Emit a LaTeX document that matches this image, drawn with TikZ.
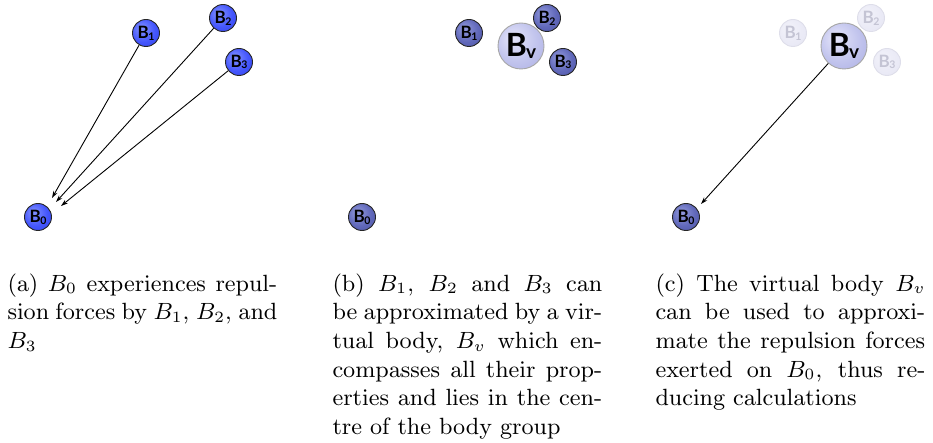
\RequirePackage{fix-cm}
\documentclass[tikz,border=0pt]{standalone}
\usepackage[no-math]{fontspec}
\newfontfamily\ballfont{Lato}
\usetikzlibrary{arrows.meta}

\pgfdeclareradialshading{ballblue}{\pgfpoint{-10bp}{10bp}}{rgb(0bp)=(0.52,0.58,1); rgb(22bp)=(0.27,0.34,0.99); rgb(40bp)=(0.18,0.25,0.92); rgb(50bp)=(0.13,0.19,0.84)}
\pgfdeclareradialshading{ballslate}{\pgfpoint{-10bp}{10bp}}{rgb(0bp)=(0.58,0.61,0.87); rgb(22bp)=(0.38,0.41,0.73); rgb(40bp)=(0.29,0.32,0.64); rgb(50bp)=(0.24,0.27,0.58)}
\pgfdeclareradialshading{balllav}{\pgfpoint{-10bp}{10bp}}{rgb(0bp)=(0.90,0.90,0.98); rgb(22bp)=(0.76,0.77,0.93); rgb(40bp)=(0.67,0.68,0.89); rgb(50bp)=(0.61,0.62,0.86)}
\pgfdeclareradialshading{ballfade}{\pgfpoint{-10bp}{10bp}}{rgb(0bp)=(0.95,0.95,0.98); rgb(30bp)=(0.91,0.91,0.96); rgb(50bp)=(0.87,0.87,0.94)}

\definecolor{fadetext}{RGB}{196,196,212}
\definecolor{fadeedge}{RGB}{222,222,234}

\newcommand\blab[1]{{\ballfont\bfseries\fontsize{17}{17}\selectfont B\kern-0.4pt\raisebox{-1.8pt}{\fontsize{10.5}{10.5}\selectfont #1}}}
\newcommand\bvlab{{\ballfont\bfseries\fontsize{32}{32}\selectfont B\kern-0.6pt\raisebox{-2.5pt}{\fontsize{19}{19}\selectfont v}}}
\newlength\capw
\setlength\capw{103.4pt}
\newcommand\jline[1]{\hbox to \capw{#1}}
\newcommand\capfont{\fontencoding{OT1}\fontfamily{cmr}\fontseries{m}\fontshape{n}\fontsize{9}{11}\selectfont}

\tikzset{
  smallball/.style={circle, minimum size=27pt, inner sep=0pt, draw=black!85, line width=0.9pt},
  blueball/.style={smallball, shading=ballblue},
  slateball/.style={smallball, shading=ballslate},
  fadeball/.style={smallball, shading=ballfade, draw=fadeedge, text=fadetext},
  virtball/.style={circle, minimum size=46pt, inner sep=0pt, draw=black!35, line width=0.9pt, shading=balllav},
  force/.style={-{Stealth[length=7pt,width=4.5pt]}, line width=0.9pt, black},
  caption/.style={anchor=north west, inner sep=0pt, align=left, scale=2.61, font=\capfont}
}

\begin{document}
\begin{tikzpicture}[x=1pt,y=-1pt]
\useasboundingbox (0,0) rectangle (933,443);

% panel (a)
\node[blueball] (a1) at (146,33) {\blab{1}};
\node[blueball] (a2) at (223,18) {\blab{2}};
\node[blueball] (a3) at (239,62) {\blab{3}};
\node[blueball] (a0) at (38,217) {\blab{0}};
\coordinate (ta1) at (52,198);
\coordinate (ta2) at (56,202);
\coordinate (ta3) at (61,206);
\draw[force] (a1) -- (ta1);
\draw[force] (a2) -- (ta2);
\draw[force] (a3) -- (ta3);

% panel (b)
\node[slateball] (b1) at (469,33) {\blab{1}};
\node[slateball] (b2) at (547,18) {\blab{2}};
\node[slateball] (b3) at (563,62) {\blab{3}};
\node[virtball] (bv) at (521,46) {\bvlab};
\node[slateball] (b0) at (362,217) {\blab{0}};

% panel (c)
\node[fadeball] (c1) at (793,33) {\blab{1}};
\node[fadeball] (c2) at (871,18) {\blab{2}};
\node[fadeball] (c3) at (887,62) {\blab{3}};
\node[virtball] (cv) at (844,46) {\bvlab};
\node[slateball] (c0) at (686,217) {\blab{0}};
\coordinate (tc) at (701,204);
\draw[force] (cv) -- (tc);

% captions
\begin{scope}[shift={(7,273)}]
\node[caption] (capa) at (0,0) {%
\jline{(a) $B_0$ experiences repul-}\\
\jline{sion forces by $B_1$, $B_2$, and}\\
$B_3$};
\end{scope}
\begin{scope}[shift={(332,273)}]
\node[caption] (capb) at (0,0) {%
\jline{(b) $B_1$, $B_2$ and $B_3$ can}\\
\jline{be approximated by a vir-}\\
\jline{tual body, $B_v$ which en-}\\
\jline{compasses all their prop-}\\
\jline{erties and lies in the cen-}\\
tre of the body group};
\end{scope}
\begin{scope}[shift={(655,273)}]
\node[caption] (capc) at (0,0) {%
\jline{(c) The virtual body $B_v$}\\
\jline{can be used to approxi-}\\
\jline{mate the repulsion forces}\\
\jline{exerted on $B_0$, thus re-}\\
ducing calculations};
\end{scope}
\end{tikzpicture}
\end{document}
